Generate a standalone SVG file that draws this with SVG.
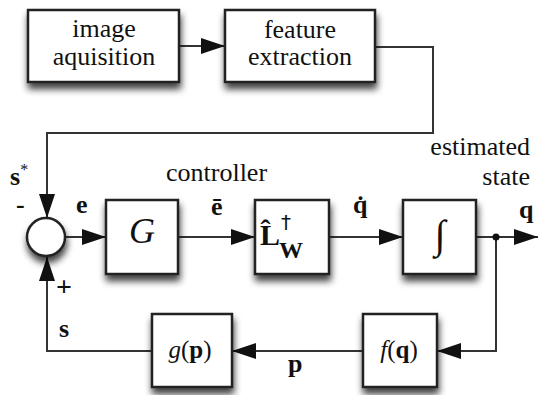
<svg xmlns="http://www.w3.org/2000/svg" width="542" height="395" viewBox="0 0 542 395" font-family="Liberation Serif, DejaVu Serif, serif">
<style>
.box{fill:#fff;stroke:#222;stroke-width:2.5;filter:url(#sh)}
.ln{fill:none;stroke:#333;stroke-width:2}
text{fill:#111}
.t{font-size:26px}
.m{font-size:26px;font-weight:bold}
.c{text-anchor:middle}
</style>
<defs>
<filter id="sh" x="-30%" y="-30%" width="160%" height="170%">
<feDropShadow dx="1" dy="6" stdDeviation="3.5" flood-color="#000" flood-opacity="0.75"/>
</filter>
<marker id="ar" viewBox="0 0 24 16" refX="24" refY="8" markerWidth="24" markerHeight="16" markerUnits="userSpaceOnUse" orient="auto">
<path d="M0,0 L24,8 L0,16 z" fill="#111"/>
</marker>
</defs>
<rect width="542" height="395" fill="#fff"/>
<g id="connectors">
<path class="ln" d="M179,46 H225" marker-end="url(#ar)"/>
<path class="ln" d="M375,47 H433 V133 H47 V218" marker-end="url(#ar)"/>
<path class="ln" d="M65,237 H106" marker-end="url(#ar)"/>
<path class="ln" d="M178,237 H255" marker-end="url(#ar)"/>
<path class="ln" d="M329,237 H403" marker-end="url(#ar)"/>
<path class="ln" d="M476,237 H538" marker-end="url(#ar)"/>
<path class="ln" d="M496,237 V351 H437" marker-end="url(#ar)"/>
<path class="ln" d="M363,351 H232" marker-end="url(#ar)"/>
<path class="ln" d="M152,351 H47 V257" marker-end="url(#ar)"/>
<circle cx="496" cy="237" r="3.5" fill="#111"/>
</g>
<g id="image-aquisition">
<rect class="box" x="28" y="10" width="151" height="72"/>
<text class="t c" x="104" y="37">image</text>
<text class="t c" x="104" y="65">aquisition</text>
</g>
<g id="feature-extraction">
<rect class="box" x="225" y="10" width="150" height="72"/>
<text class="t c" x="300" y="38">feature</text>
<text class="t c" x="300" y="65">extraction</text>
</g>
<g id="sum">
<circle cx="46" cy="237" r="19" fill="#fff" stroke="#222" stroke-width="2.5" filter="url(#sh)"/>
<text x="16" y="213" style="font-size:26px;font-weight:bold">-</text>
<text x="56" y="296" style="font-size:28px;font-weight:bold">+</text>
</g>
<g id="G">
<rect class="box" x="106" y="200" width="72" height="74"/>
<text class="c" x="142" y="243" style="font-size:36px;font-style:italic">G</text>
</g>
<g id="L">
<rect class="box" x="255" y="200" width="74" height="74"/>
<text x="260" y="245" style="font-size:30px;font-weight:bold">L̂<tspan dx="1" dy="-16" style="font-size:20px;font-weight:normal;font-family:'DejaVu Sans',sans-serif">†</tspan><tspan dx="-12" dy="29" style="font-size:24px">W</tspan></text>
</g>
<g id="integrator">
<rect class="box" x="403" y="200" width="73" height="74"/>
<text class="c" x="440" y="248" style="font-size:40px;font-style:italic">∫</text>
</g>
<g id="g">
<rect class="box" x="152" y="314" width="80" height="73"/>
<text class="c" x="190" y="358" style="font-size:25px"><tspan style="font-style:italic">g</tspan>(<tspan style="font-weight:bold">p</tspan>)</text>
</g>
<g id="f">
<rect class="box" x="363" y="314" width="74" height="73"/>
<text class="c" x="399" y="358" style="font-size:25px"><tspan style="font-style:italic">f</tspan>(<tspan style="font-weight:bold">q</tspan>)</text>
</g>
<g id="labels">
<text class="m" x="10" y="185">s<tspan dy="-10" style="font-size:16px;font-weight:normal">*</tspan></text>
<text class="m" x="76" y="213">e</text>
<text class="m" x="211" y="215">ē</text>
<text class="m" x="353" y="213">q̇</text>
<text class="m" x="519" y="218">q</text>
<text class="m" x="59" y="337">s</text>
<text class="m" x="288" y="372">p</text>
<text class="t" x="166" y="181">controller</text>
<text class="t" x="530" y="155" text-anchor="end">estimated</text>
<text class="t" x="530" y="185" text-anchor="end">state</text>
</g>
</svg>
